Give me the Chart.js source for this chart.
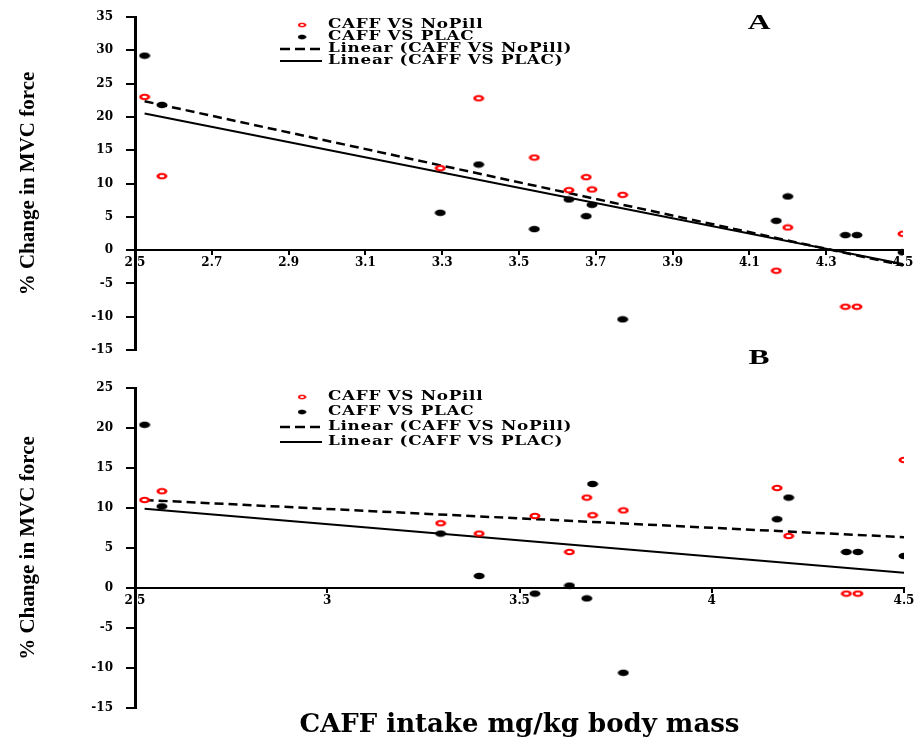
<!DOCTYPE html>
<html><head><meta charset="utf-8">
<script src="https://cdn.jsdelivr.net/npm/chart.js@4.4.0/dist/chart.umd.min.js"></script>
<style>
html,body{margin:0;padding:0;background:#fff;width:921px;height:738px;overflow:hidden;}
#wrapA{position:absolute;left:0;top:0;width:921px;height:360px;}
#wrapB{position:absolute;left:0;top:340px;width:921px;height:398px;}
canvas{display:block;}
</style></head><body>
<div id="wrapA"><canvas id="chartA" width="921" height="360"></canvas></div>
<div id="wrapB"><canvas id="chartB" width="921" height="398"></canvas></div>
<script>
// ---- data ----
const intakeMgKg = [2.525, 2.57, 3.295, 3.395, 3.54, 3.63, 3.675, 3.69, 3.77, 4.17, 4.2, 4.35, 4.38, 4.5];
const panelA_NoPill = [23.0, 11.1, 12.3, 22.8, 13.9, 9.0, 10.95, 9.1, 8.3, -3.1, 3.4, -8.5, -8.5, 2.45];
const panelA_Plac   = [29.2, 21.8, 5.6, 12.85, 3.15, 7.6, 5.1, 6.8, -10.4, 4.4, 8.05, 2.25, 2.25, -0.35];
const panelB_NoPill = [11.0, 12.1, 8.1, 6.8, 9.0, 4.5, 11.3, 9.1, 9.7, 12.5, 6.5, -0.7, -0.7, 16.0];
const panelB_Plac   = [20.4, 10.2, 6.8, 1.5, -0.7, 0.3, -1.3, 13.0, -10.6, 8.6, 11.3, 4.5, 4.5, 4.0];
const trendX = [2.525, 4.5];
const panelA_TrendNoPill = [22.35, -2.3];
const panelA_TrendPlac   = [20.5, -2.1];
const panelB_TrendNoPill = [11.0, 6.35];
const panelB_TrendPlac   = [9.9, 1.9];
const seriesLabels = ['CAFF VS NoPill', 'CAFF VS PLAC', 'Linear (CAFF VS NoPill)', 'Linear (CAFF VS PLAC)'];
const yTitle = '% Change in MVC force';
const xTitle = 'CAFF intake mg/kg body mass';

// ---- marker images (ellipse dots) ----
function makeMarker(color, hollow) {
  const c = document.createElement('canvas');
  c.width = 12; c.height = 8;
  const g = c.getContext('2d');
  g.beginPath(); g.ellipse(6, 4, 5.5, 3.3, 0, 0, Math.PI * 2);
  g.fillStyle = color; g.fill();
  if (hollow) {
    g.beginPath(); g.ellipse(6, 4, 2.6, 1.3, 0, 0, Math.PI * 2);
    g.fillStyle = '#fff'; g.fill();
  }
  return c;
}
const redMarker = makeMarker('#ff0000', true);
const blackMarker = makeMarker('#000000', false);

const pts = (xs, ys) => xs.map((x, i) => ({x: x, y: ys[i]}));

// ---- custom legend + panel letter ----
const panelDecor = {
  id: 'panelDecor',
  afterDraw(chart, args, o) {
    const ctx = chart.ctx;
    ctx.save();
    chart.data.datasets.forEach((ds, i) => {
      const y = o.rows[i];
      if (ds.showLine) {
        ctx.save();
        ctx.strokeStyle = '#000';
        ctx.lineWidth = ds.borderWidth;
        ctx.setLineDash(ds.borderDash ? [10, 5] : []);
        ctx.beginPath(); ctx.moveTo(o.lineX0, y); ctx.lineTo(o.lineX1, y); ctx.stroke();
        ctx.restore();
      } else {
        const m = ds.pointStyle;
        ctx.drawImage(m, o.markerX - 4.5, y - 3, 9, 6);
      }
      ctx.save();
      ctx.translate(o.textX, y);
      ctx.scale(1.4, 1);
      ctx.font = 'bold 12px "DejaVu Serif"';
      ctx.letterSpacing = '0.5px';
      ctx.fillStyle = '#000';
      ctx.textBaseline = 'middle';
      ctx.textAlign = 'left';
      ctx.fillText(ds.label, 0, 0);
      ctx.restore();
    });
    ctx.save();
    ctx.translate(o.letterX, o.letterY);
    ctx.scale(1.5, 1);
    ctx.font = 'bold 21px "Liberation Serif"';
    ctx.fillStyle = '#000';
    ctx.textAlign = 'center';
    ctx.textBaseline = 'middle';
    ctx.fillText(o.letter, 0, 0);
    ctx.restore();
    ctx.restore();
  }
};

function buildChart(canvasId, nopill, plac, trendN, trendP, yMin, yMax, xStep, padding, decor, showXTitle) {
  const tickFont = {family: 'DejaVu Serif', weight: 'bold', size: 12};
  return new Chart(document.getElementById(canvasId), {
    type: 'scatter',
    data: {
      datasets: [
        {label: seriesLabels[0], data: pts(intakeMgKg, nopill), pointStyle: redMarker, pointRadius: 4, backgroundColor: '#ff0000', borderColor: '#ff0000'},
        {label: seriesLabels[1], data: pts(intakeMgKg, plac), pointStyle: blackMarker, pointRadius: 4, backgroundColor: '#000', borderColor: '#000'},
        {label: seriesLabels[2], data: pts(trendX, trendN), showLine: true, pointRadius: 0, borderColor: '#000', borderWidth: 2.5, borderDash: [9, 5], fill: false},
        {label: seriesLabels[3], data: pts(trendX, trendP), showLine: true, pointRadius: 0, borderColor: '#000', borderWidth: 2, fill: false}
      ]
    },
    options: {
      responsive: false,
      animation: false,
      events: [],
      devicePixelRatio: 1,
      layout: {padding: padding},
      plugins: {
        legend: {display: false},
        tooltip: {enabled: false},
        title: {
          display: showXTitle, text: xTitle, position: 'bottom', fullSize: false, align: 'center',
          color: '#000', font: {family: 'DejaVu Serif', weight: 'bold', size: 26, lineHeight: 1},
          padding: {top: 4, bottom: 0}
        },
        panelDecor: decor
      },
      scales: {
        x: {
          type: 'linear', position: {y: 0}, min: 2.5, max: 4.5,
          ticks: {stepSize: xStep, color: '#000', font: tickFont, padding: 2, maxRotation: 0, autoSkip: false,
                  callback: v => String(Math.round(v * 100) / 100)},
          grid: {drawOnChartArea: false, drawTicks: true, tickLength: 4, color: '#000', lineWidth: 2},
          border: {color: '#000', width: 2},
          afterFit: s => { s.height = 0; }
        },
        y: {
          type: 'linear', position: 'left', min: yMin, max: yMax,
          ticks: {stepSize: 5, color: '#000', font: tickFont, padding: 13},
          grid: {drawOnChartArea: false, drawTicks: true, tickLength: 9, color: '#000', lineWidth: 2},
          border: {color: '#000', width: 3},
          title: {display: true, text: yTitle, color: '#000', font: {family: 'Liberation Serif', weight: 'bold', size: 21}, padding: {top: 16, bottom: 0}},
          afterFit: s => { s.width = 135; s.paddingTop = 0; s.paddingBottom = 0; }
        }
      }
    },
    plugins: [panelDecor]
  });
}

buildChart('chartA', panelA_NoPill, panelA_Plac, panelA_TrendNoPill, panelA_TrendPlac, -15, 35, 0.2,
  {left: 0, top: 17, right: 18, bottom: 10},
  {rows: [25, 37, 49, 61], lineX0: 280, lineX1: 322, markerX: 302, textX: 328, letter: 'A', letterX: 759, letterY: 24},
  false);
buildChart('chartB', panelB_NoPill, panelB_Plac, panelB_TrendNoPill, panelB_TrendPlac, -15, 25, 0.5,
  {left: 0, top: 48, right: 17, bottom: 0},
  {rows: [57, 72, 87, 102], lineX0: 280, lineX1: 322, markerX: 302, textX: 328, letter: 'B', letterX: 759, letterY: 19},
  true);
</script>
</body></html>
